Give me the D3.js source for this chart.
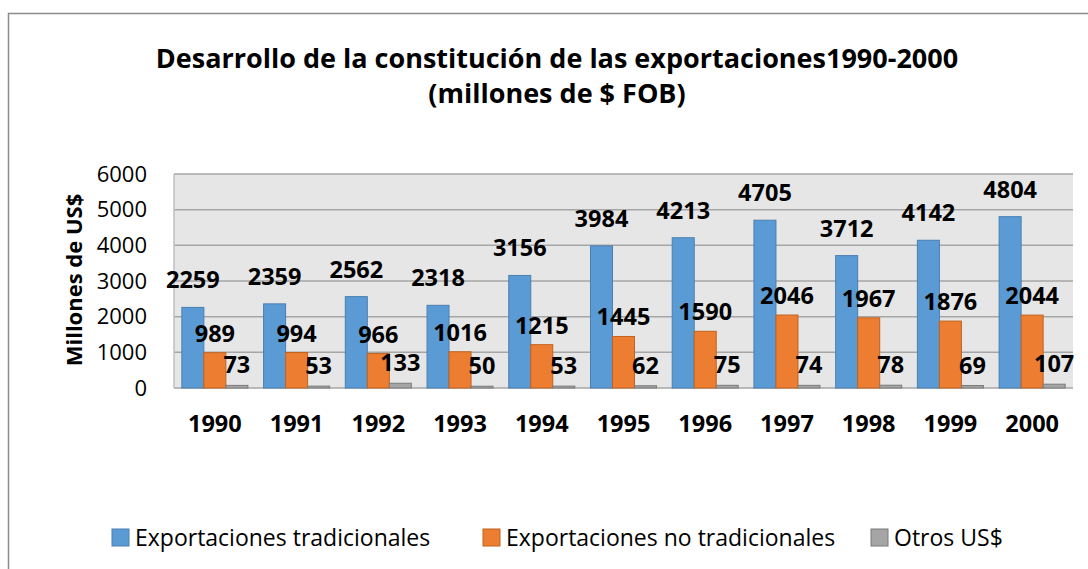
<!DOCTYPE html>
<html>
<head>
<meta charset="utf-8">
<script src="https://cdn.jsdelivr.net/npm/d3@7"></script>
<style>
    body { margin: 0; background: white; }
    text { font-family: "Open Sans", sans-serif; fill: black; }
</style>
</head>
<body>
<div class="containerGraph"></div>
<script>
// data
var years = ["1990", "1991", "1992", "1993", "1994", "1995", "1996", "1997", "1998", "1999", "2000"];
var tradicionales = [2259, 2359, 2562, 2318, 3156, 3984, 4213, 4705, 3712, 4142, 4804];
var noTradicionales = [989, 994, 966, 1016, 1215, 1445, 1590, 2046, 1967, 1876, 2044];
var otros = [73, 53, 133, 50, 53, 62, 75, 74, 78, 69, 107];
var seriesNames = ["Exportaciones tradicionales", "Exportaciones no tradicionales", "Otros US$"];
var yTicks = [0, 1000, 2000, 3000, 4000, 5000, 6000];

// this function makes one row per year
function reformData() {
    var list = [];
    for (var i = 0; i < years.length; i++) {
        list.push({name: years[i], field1: tradicionales[i], field2: noTradicionales[i], field3: otros[i]});
    }
    return list;
}

function barChart() {
    const width = 1088, height = 569;
    const plot = {left: 174, right: 1073, top: 174, bottom: 388};
    const colors = {field1: "#5b9bd5", field2: "#ed7d31", field3: "#a5a5a5"};
    const strokes = {field1: "#4a7fb0", field2: "#c0631f", field3: "#7a7a7a"};
    const labelOffset = {field1: 19, field2: 11, field3: 12};

    // make svg
    const svg = d3.select(".containerGraph")
                  .append("svg")
                  .attr("width", width)
                  .attr("height", height);

    svg.append("rect")
       .attr("width", width)
       .attr("height", height)
       .attr("fill", "white");

    // chart border (top and left visible)
    svg.append("path")
       .attr("d", "M8.5," + height + "V13.5H" + width)
       .attr("fill", "none")
       .attr("stroke", "#8c8c8c")
       .attr("stroke-width", 1.5);

    var data = reformData();

    // scales
    var xScale = d3.scaleBand()
                   .domain(years)
                   .range([plot.left, plot.right])
                   .paddingInner(0.192)
                   .paddingOuter(0.096);

    var xScale1 = d3.scaleBand()
                    .domain(["field1", "field2", "field3"])
                    .range([0, xScale.bandwidth()]);

    var yScale = d3.scaleLinear()
                   .domain([0, 6000])
                   .range([plot.bottom, plot.top]);

    // plot background
    svg.append("rect")
       .attr("x", plot.left)
       .attr("y", plot.top)
       .attr("width", plot.right - plot.left)
       .attr("height", plot.bottom - plot.top)
       .attr("fill", "#e6e6e6");

    // gridlines
    svg.append("g")
       .selectAll("line")
       .data(yTicks)
       .enter()
       .append("line")
       .attr("x1", plot.left)
       .attr("x2", plot.right)
       .attr("y1", d => yScale(d))
       .attr("y2", d => yScale(d))
       .attr("stroke", "#a6a6a6")
       .attr("stroke-width", 1.5);

    // left wall edge
    svg.append("line")
       .attr("x1", plot.left)
       .attr("x2", plot.left)
       .attr("y1", plot.top)
       .attr("y2", plot.bottom)
       .attr("stroke", "#bfbfbf")
       .attr("stroke-width", 1.5);

    // y axis
    const yAxis = d3.axisLeft()
                    .scale(yScale)
                    .tickValues(yTicks)
                    .tickFormat(d3.format("d"))
                    .tickSize(0)
                    .tickPadding(27);

    var yG = svg.append("g")
                .attr("transform", "translate(" + plot.left + ",0)")
                .call(yAxis);
    yG.select(".domain").remove();
    yG.selectAll("text")
      .attr("font-family", "Open Sans")
      .attr("font-size", 22)
      .attr("fill", "black");

    // x axis
    const xAxis = d3.axisBottom()
                    .scale(xScale)
                    .tickSize(0)
                    .tickPadding(27);

    var xG = svg.append("g")
                .attr("transform", "translate(0," + plot.bottom + ")")
                .call(xAxis);
    xG.select(".domain").remove();
    xG.selectAll("text")
      .attr("font-family", "Open Sans")
      .attr("font-weight", "bold")
      .attr("font-size", 23.5)
      .attr("fill", "black");

    // bar groups
    var barGroup = svg.selectAll(".barGroup")
                      .data(data)
                      .enter().append("g")
                      .attr("class", "barGroup")
                      .attr("transform", d => "translate(" + xScale(d.name) + ",0)");

    ["field1", "field2", "field3"].forEach(function(f) {
        barGroup.append("rect")
                .attr("class", "bar " + f)
                .attr("x", xScale1(f))
                .attr("y", d => yScale(d[f]))
                .attr("width", xScale1.bandwidth())
                .attr("height", d => yScale(0) - yScale(d[f]))
                .attr("fill", colors[f])
                .attr("stroke", strokes[f])
                .attr("stroke-width", 1);
    });

    // value labels
    ["field1", "field2", "field3"].forEach(function(f) {
        barGroup.append("text")
                .attr("x", xScale1(f) + xScale1.bandwidth() / 2)
                .attr("y", d => yScale(d[f]) - labelOffset[f])
                .attr("text-anchor", "middle")
                .attr("font-weight", "bold")
                .attr("font-size", 23.5)
                .text(d => d[f]);
    });

    // y axis title
    svg.append("text")
       .attr("transform", "translate(82," + ((plot.top + plot.bottom) / 2 - 1) + ") rotate(-90)")
       .attr("text-anchor", "middle")
       .attr("font-weight", "bold")
       .attr("font-size", 22)
       .text("Millones de US$");

    // title
    svg.append("text")
       .attr("x", 557)
       .attr("y", 68)
       .attr("text-anchor", "middle")
       .attr("font-weight", "bold")
       .attr("font-size", 27)
       .text("Desarrollo de la constitución de las exportaciones1990-2000");
    svg.append("text")
       .attr("x", 557)
       .attr("y", 103)
       .attr("text-anchor", "middle")
       .attr("font-weight", "bold")
       .attr("font-size", 27)
       .text("(millones de $ FOB)");

    // legend
    var legendX = [112, 483, 871];
    var legend = svg.selectAll(".legend")
                    .data(seriesNames)
                    .enter().append("g")
                    .attr("class", "legend")
                    .attr("transform", (d, i) => "translate(" + legendX[i] + ",529)");
    legend.append("rect")
          .attr("width", 17)
          .attr("height", 17)
          .attr("fill", (d, i) => colors["field" + (i + 1)])
          .attr("stroke", (d, i) => strokes["field" + (i + 1)]);
    legend.append("text")
          .attr("x", 23)
          .attr("y", 9)
          .attr("dy", "0.35em")
          .attr("font-size", 23)
          .text(d => d);
}

barChart();
</script>
</body>
</html>
